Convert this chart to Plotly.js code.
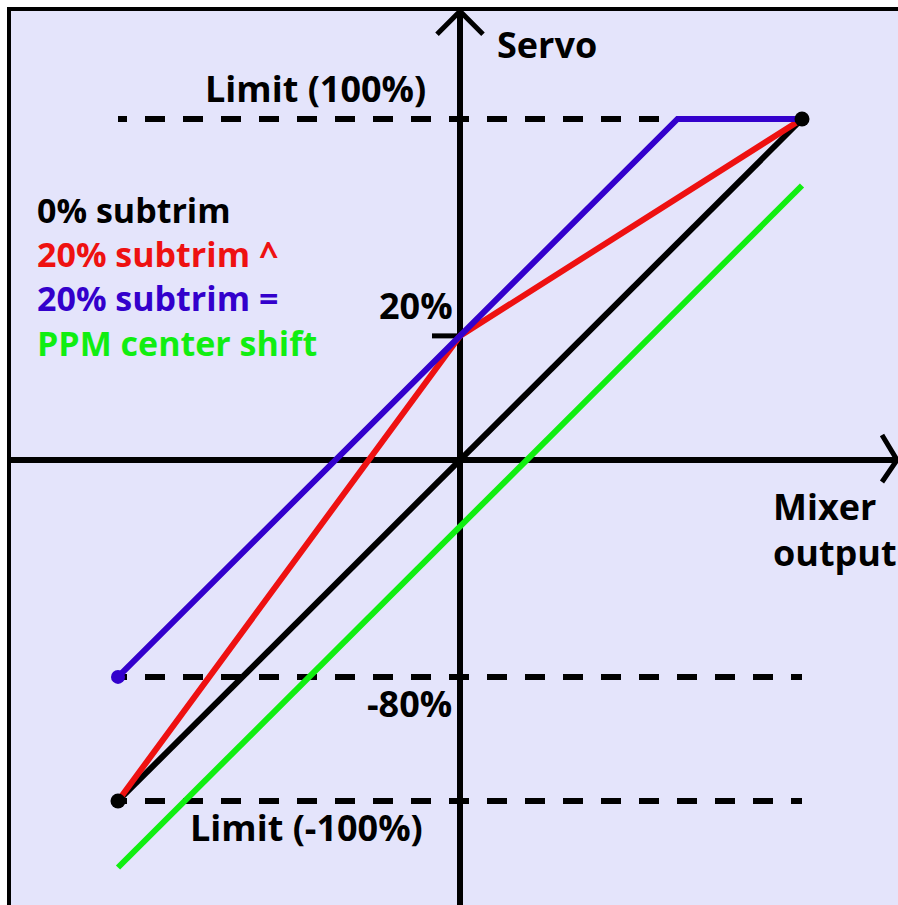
<!DOCTYPE html>
<html>
<head>
<meta charset="utf-8">
<script src="https://cdn.plot.ly/plotly-3.0.1.min.js"></script>
<style>
  html, body { margin: 0; padding: 0; background: #ffffff; }
  #chart { width: 898px; height: 905px; }
</style>
</head>
<body>
<div id="chart"></div>
<script>
// ---- data (schematic units, limits = +/-100) ----
const mixerX      = [-100, 0, 100];
const noSubtrimY  = [-100, 0, 100];
const subtrimRedY = [-100, 36.4, 100];
const centerX     = [-100, 0, 63.6, 100];
const centerY     = [-63.6, 36.4, 100, 100];
const ppmShiftX   = [-100, 100];
const ppmShiftY   = [-119.5, 80.5];
const limitHigh   = 100;
const limitLow    = -100;
const shiftedLow  = -63.6;
const subtrimLevel = 36.4;
const legendLabels = ['0% subtrim', '20% subtrim ^', '20% subtrim =', 'PPM center shift'];
const levelLabels  = ['20%', '-80%'];
const limitLabels  = ['Limit (100%)', 'Limit (-100%)'];
const axisLabels   = ['Servo', 'Mixer', 'output'];

// ---- geometry helpers (layout only) ----
const W = 898, H = 905, ML = 11, MT = 11;
const OX = 460, OY = 460, SX = 3.42, SY = 3.41;
const px2x = p => (p - OX) / SX;
const px2y = p => (OY - p) / SY;
const xRange = [px2x(ML), px2x(W)];
const yRange = [px2y(H), px2y(MT)];

const BLACK = '#000000', RED = '#ee1111', BLUE = '#3300cc', GREEN = '#11ee11';
const FONT = 'Open Sans, Noto Sans, sans-serif';
const DASH = '9px,18px,11px,0px';

const xEnds = [mixerX[0], mixerX[mixerX.length - 1]];
const traces = [];
// dashed reference lines
[limitHigh, shiftedLow, limitLow].forEach(v => {
  traces.push({x: xEnds, y: [v, v], mode: 'lines', line: {color: BLACK, width: 6, dash: DASH}});
});
// axis arrowheads
const armX = 23 / SX, armY = 23 / SY;
const tipY = yRange[1] - 0.05;
traces.push({x: [-armX, 0, armX], y: [tipY - armY, tipY, tipY - armY], mode: 'lines', line: {color: BLACK, width: 5}});
const tipX = px2x(897);
traces.push({x: [tipX - 15 / SX, tipX, tipX - 15 / SX], y: [25 / SY, 0, -22 / SY], mode: 'lines', line: {color: BLACK, width: 5}});
// series
traces.push({x: ppmShiftX, y: ppmShiftY, mode: 'lines', line: {color: GREEN, width: 6}});
traces.push({x: mixerX, y: noSubtrimY, mode: 'lines', line: {color: BLACK, width: 6}});
traces.push({x: mixerX, y: subtrimRedY, mode: 'lines', line: {color: RED, width: 6}});
traces.push({x: centerX, y: centerY, mode: 'lines', line: {color: BLUE, width: 6}});
traces.push({x: [centerX[0]], y: [centerY[0]], mode: 'markers', marker: {color: BLUE, size: 14, opacity: 1}});
traces.push({x: xEnds, y: [noSubtrimY[0], noSubtrimY[noSubtrimY.length - 1]], mode: 'markers',
  marker: {color: BLACK, size: 15, opacity: 1}});

const fnt = (size, color) => ({family: FONT, size: size, color: color || BLACK, weight: 'bold'});
const ann = (text, px, py, xanchor, size, color) => ({
  text: text, x: px2x(px), y: px2y(py), xref: 'x', yref: 'y', showarrow: false,
  xanchor: xanchor, yanchor: 'middle', align: 'left', font: fnt(size, color)
});
const LS = 36;
const legendColors = [BLACK, RED, BLUE, GREEN];
const legendText = legendLabels.map((t, i) => '<span style="color:' + legendColors[i] + '">' + t + '</span>').join('<br>');
const annotations = [
  ann(axisLabels[0], 495, 44, 'left', LS),
  ann(limitLabels[0], 203, 88, 'left', LS),
  ann(legendText, 35, 276, 'left', 34),
  ann(levelLabels[0], 455, 305, 'right', LS),
  ann(levelLabels[1], 454, 703, 'right', LS),
  ann(limitLabels[1], 188, 827, 'left', LS),
  ann(axisLabels[1], 771, 506, 'left', LS),
  ann(axisLabels[2], 771, 552, 'left', LS)
];

const layout = {
  width: W, height: H,
  margin: {l: ML, r: 0, t: MT, b: 0, pad: 0},
  paper_bgcolor: '#ffffff',
  plot_bgcolor: '#e4e4fb',
  showlegend: false,
  hovermode: false,
  xaxis: {range: xRange, showgrid: false, showticklabels: false, ticks: '', side: 'top',
    zeroline: true, zerolinecolor: BLACK, zerolinewidth: 5.5,
    showline: true, linecolor: BLACK, linewidth: 4, fixedrange: true},
  yaxis: {range: yRange, showgrid: false, showticklabels: false, ticks: '',
    zeroline: true, zerolinecolor: BLACK, zerolinewidth: 5.5,
    showline: true, linecolor: BLACK, linewidth: 4, fixedrange: true},
  shapes: [
    {type: 'line', xref: 'x', yref: 'y', x0: px2x(432), x1: 0, y0: subtrimLevel, y1: subtrimLevel,
     line: {color: BLACK, width: 5}, layer: 'below'}
  ],
  annotations: annotations
};

Plotly.newPlot('chart', traces, layout, {staticPlot: true, displayModeBar: false});
</script>
</body>
</html>
